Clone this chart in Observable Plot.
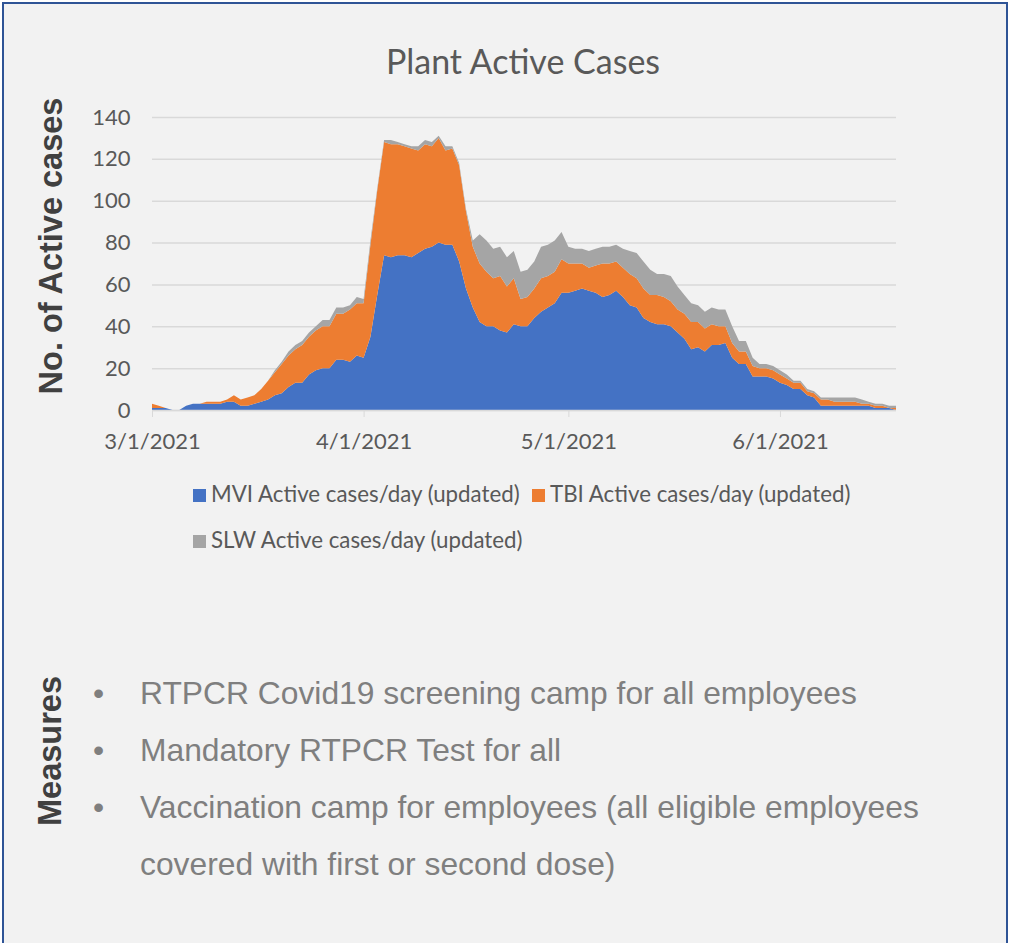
<!DOCTYPE html>
<html>
<head>
<meta charset="utf-8">
<script src="https://cdn.jsdelivr.net/npm/d3@7"></script>
<script src="https://cdn.jsdelivr.net/npm/@observablehq/plot@0.6"></script>
<style>
  html, body { margin: 0; padding: 0; background: #ffffff; }
  #page { position: relative; width: 1011px; height: 943px; overflow: hidden; background: #ffffff; }
  #panel { position: absolute; left: 2px; top: 2px; width: 1006px; height: 980px; box-sizing: border-box;
           border: 2px solid #2f5496; background: #f2f2f2; }
  .abs { position: absolute; white-space: nowrap; line-height: 1; }
  #title { font-family: Lato, "Open Sans", sans-serif; font-size: 34px; color: #595959; left: 323px; width: 400px; text-align: center; top: 44px; }
  .rot { font-family: "Liberation Sans", Arial, sans-serif; font-weight: bold; font-size: 32.5px; color: #404040;
         transform: translate(-50%, -50%) rotate(-90deg); }
  .leg { font-family: Lato, "Open Sans", sans-serif; font-size: 22.3px; color: #595959; }
  .sw { position: absolute; width: 13px; height: 13px; }
  .meas { font-family: "Liberation Sans", Arial, sans-serif; font-size: 31.8px; color: #7f7f7f; }
  #chart { position: absolute; left: 0; top: 90px; }
</style>
</head>
<body>
<div id="page">
  <div id="panel"></div>
  <div id="title" class="abs">Plant Active Cases</div>
  <div class="abs rot" style="left:51px; top:246px;">No. of Active cases</div>
  <div id="chart"></div>
  <div id="legend"></div>
  <div class="abs rot" style="left:50px; top:751px;">Measures</div>
  <div id="measures"></div>
</div>
<script>
// ---- data (daily values, starting 3/1/2021) ----
const startDay = "2021-03-01";
const seriesNames = ["MVI Active cases/day (updated)", "TBI Active cases/day (updated)", "SLW Active cases/day (updated)"];
const seriesColors = ["#4472c4", "#ed7d31", "#a5a5a5"];
const mvi = [1,1,1,0,0,2,3,3,3,3, 3,4,4,2,2,3,4,5,7,8, 11,13,13,17,19,20,20,24,24,23,
             26,25,35,55,74,73,74,74,73,75, 77,78,80,79,79,71,58,49,42,40, 40,38,37,41,40,40,44,47,49,51,
             56,56,57,58,57,56,54,55,57,54, 50,49,44,42,41,41,40,37,34,29, 30,28,31,31,32,25,22,22,16,16,
             16,15,13,12,10,10,7,6,2,2, 2,2,2,2,2,2,1,1,1,0];
const tbi = [2,1,0,0,0,0,0,0,1,1, 1,1,3,3,4,4,6,9,11,14, 15,16,18,18,19,20,20,22,22,25,
             25,26,44,50,54,54,53,52,52,49, 50,48,50,45,46,46,37,29,28,26, 23,26,22,22,13,14,14,16,15,15,
             16,14,13,12,11,13,16,15,14,14, 15,14,14,13,14,13,12,11,12,13, 12,11,10,9,8,7,6,6,5,4,
             4,4,4,3,3,3,2,2,3,3, 2,2,2,2,1,1,1,1,0,1];
const slw = [0,0,0,0,0,0,0,0,0,0, 0,0,0,0,0,0,0,0,1,1, 2,2,2,2,2,3,3,3,3,2,
             3,2,2,1,1,2,1,1,1,2, 2,2,1,2,1,1,1,3,14,15, 14,14,14,13,13,13,13,15,15,15,
             13,8,7,7,8,8,8,8,8,9, 11,12,13,12,10,11,12,11,9,9, 8,8,8,8,8,8,5,5,4,2,
             2,2,2,2,1,1,1,1,1,1, 2,2,2,2,2,1,1,1,1,1];
const xTickDates = ["2021-03-01", "2021-04-01", "2021-05-01", "2021-06-01"];
const yTicks = [0, 20, 40, 60, 80, 100, 120, 140];
const measures = [
  "RTPCR Covid19 screening camp for all employees",
  "Mandatory RTPCR Test for all",
  "Vaccination camp for employees (all eligible employees"
];
const measuresCont = "covered with first or second dose)";

// ---- build table ----
const start = new Date(startDay + "T00:00:00Z");
const values = [mvi, tbi, slw];
const rows = [];
values.forEach((arr, s) => arr.forEach((v, i) => rows.push({date: d3.utcDay.offset(start, i), series: seriesNames[s], value: v})));
const end = d3.utcDay.offset(start, mvi.length - 1);
const xTicks = xTickDates.map(s => new Date(s + "T00:00:00Z"));
const fmt = d => `${d.getUTCMonth() + 1}/${d.getUTCDate()}/${d.getUTCFullYear()}`;

const chart = Plot.plot({
  width: 1011, height: 380,
  marginLeft: 152, marginRight: 115, marginTop: 27, marginBottom: 60,
  style: {background: "transparent", fontFamily: "Lato, 'Open Sans', sans-serif", fontSize: "22px", color: "#595959", overflow: "visible"},
  x: {type: "utc", domain: [start, end]},
  y: {domain: [0, 140]},
  color: {domain: seriesNames, range: seriesColors},
  marks: [
    Plot.gridY(yTicks, {stroke: "#d9d9d9", strokeOpacity: 1, strokeWidth: 1.5}),
    Plot.areaY(rows, {x: "date", y: "value", fill: "series", z: "series", curve: "linear"}),
    Plot.ruleY([0], {stroke: "#d9d9d9", strokeWidth: 1.5}),
    Plot.axisY(yTicks, {tickSize: 0, tickPadding: 22, fill: "#595959", label: null, fontSize: 22}),
    Plot.axisX(xTicks, {tickSize: 7, tickPadding: 16, stroke: "#d9d9d9", fill: "#595959", tickFormat: fmt, label: null, fontSize: 22})
  ]
});
document.getElementById("chart").appendChild(chart);

// ---- legend ----
const legend = document.getElementById("legend");
const legPos = [[193, 489], [532, 489], [193, 535]];
seriesNames.forEach((name, i) => {
  const [lx, ly] = legPos[i];
  const sw = document.createElement("div");
  sw.className = "sw";
  sw.style.left = lx + "px"; sw.style.top = ly + "px"; sw.style.background = seriesColors[i];
  legend.appendChild(sw);
  const t = document.createElement("div");
  t.className = "abs leg";
  t.textContent = name;
  t.style.left = (lx + 18) + "px"; t.style.top = (ly - 6) + "px";
  legend.appendChild(t);
});

// ---- measures ----
const mdiv = document.getElementById("measures");
const baselines = [705, 762, 819, 876];
measures.forEach((m, i) => {
  const b = document.createElement("div");
  b.className = "abs meas"; b.textContent = "\u2022";
  b.style.left = "93px"; b.style.top = (baselines[i] - 27) + "px";
  mdiv.appendChild(b);
  const t = document.createElement("div");
  t.className = "abs meas"; t.textContent = m;
  t.style.left = "140px"; t.style.top = (baselines[i] - 27) + "px";
  mdiv.appendChild(t);
});
const c = document.createElement("div");
c.className = "abs meas"; c.textContent = measuresCont;
c.style.left = "140px"; c.style.top = (baselines[3] - 27) + "px";
mdiv.appendChild(c);
</script>
</body>
</html>
